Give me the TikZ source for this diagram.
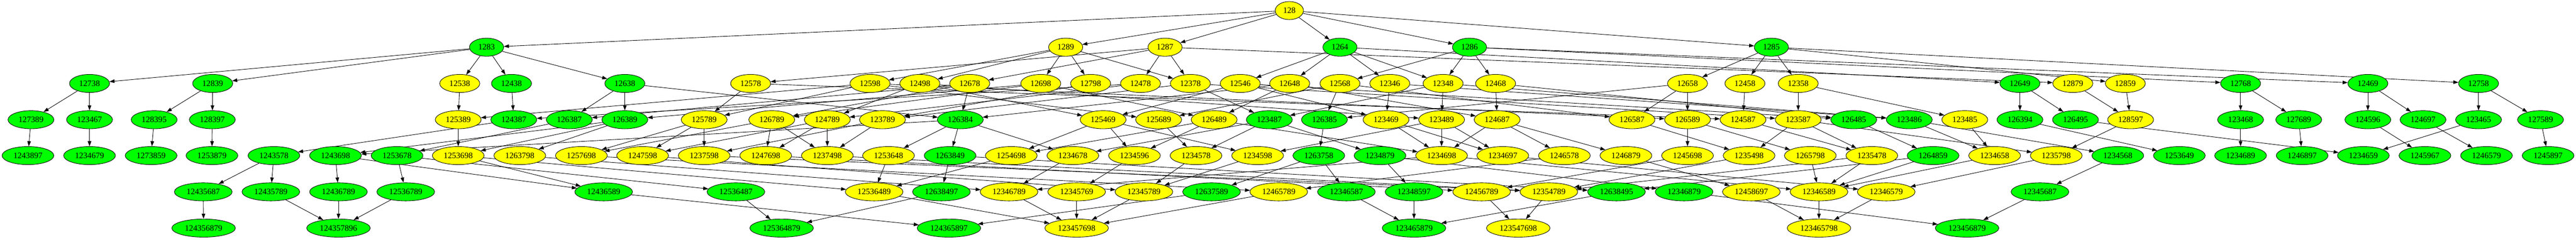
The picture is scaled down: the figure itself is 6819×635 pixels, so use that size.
\documentclass[tikz,border=0pt]{standalone}
\usepackage{fontspec}
\setmainfont{Liberation Serif}
\usetikzlibrary{arrows.meta,backgrounds,shapes.geometric}
\definecolor{gv}{RGB}{0,255,0}
\definecolor{yv}{RGB}{255,255,0}
\tikzset{
  nd/.style={ellipse, draw=black, line width=0.6pt, minimum height=24pt,
    inner xsep=5pt, inner ysep=0pt, font=\fontsize{11pt}{13pt}\selectfont, text=black},
  edge/.style={line width=0.6pt, draw=black, -{Triangle[length=6.7pt,width=4.7pt]}}
}
\begin{document}
\begin{tikzpicture}[x=0.5pt,y=-0.5pt]
\useasboundingbox (0,0) rectangle (6819,635);
% row 0
\node[nd,fill=yv] (n128) at (3413,28) {128};
% row 1
\foreach \l/\x/\c in {1283/1288/gv,1289/2821/yv,1287/3084/yv,1264/3547/gv,1286/3890/gv,1285/4689/gv}
  \node[nd,fill=\c] (n\l) at (\x,125) {\l};
% row 2
\foreach \l/\x/\c in {12738/237/gv,12839/563/gv,12538/1217/yv,12438/1354/gv,12638/1654/gv,12578/1987/yv,
  12598/2303/yv,12498/2435/yv,12678/2567/yv,12698/2755/yv,12798/2887/yv,12478/3019/yv,12378/3151/yv,
  12546/3283/yv,12648/3414/yv,12568/3547/yv,12346/3679/yv,12348/3820/yv,12468/3959/yv,12658/4467/yv,
  12458/4619/yv,12358/4760/yv,12649/5347/gv,12879/5487/yv,12859/5626/yv,12768/5931/gv,12469/6268/gv,12758/6561/gv}
  \node[nd,fill=\c] (n\l) at (\x,221) {\l};
% row 3
\foreach \l/\x/\c in {127389/82/gv,123467/237/gv,128395/408/gv,128397/562/gv,125389/1213/yv,124387/1360/gv,
  126387/1507/gv,126389/1654/gv,125789/1864/yv,126789/2043/yv,124789/2190/yv,123789/2336/yv,126384/2542/gv,
  125469/2920/yv,125689/3067/yv,126489/3214/yv,123487/3360/gv,126385/3506/gv,123469/3669/yv,123489/3816/yv,
  124687/3963/yv,126587/4320/yv,126589/4467/yv,124587/4614/yv,123587/4760/yv,126485/4907/gv,123486/5054/gv,
  123485/5201/yv,126394/5347/gv,126495/5494/gv,128597/5640/yv,123468/5931/gv,127689/6085/gv,124596/6268/gv,
  124697/6414/gv,123465/6561/gv,127589/6725/gv}
  \node[nd,fill=\c] (n\l) at (\x,317) {\l};
% row 4
\foreach \l/\x/\c in {1243897/74/gv,1234679/237/gv,1273859/400/gv,1253879/561/gv,1243578/725/gv,1243698/888/gv,
  1253678/1051/gv,1253698/1213/yv,1263798/1376/yv,1257698/1539/yv,1247598/1701/yv,1237598/1864/yv,1247698/2027/yv,
  1237498/2190/yv,1253648/2352/yv,1263849/2515/gv,1254698/2677/yv,1234678/2840/yv,1234596/3003/yv,1234578/3166/yv,
  1234598/3329/yv,1263758/3491/gv,1234879/3653/gv,1234698/3816/yv,1234697/3978/yv,1246578/4141/yv,1246879/4304/yv,
  1245698/4467/yv,1235498/4630/yv,1265798/4792/yv,1235478/4955/yv,1264859/5117/gv,1234658/5280/yv,1235798/5443/yv,
  1234568/5606/gv,1253649/5769/gv,1234689/5931/gv,1246897/6094/gv,1234659/6256/gv,1245967/6419/gv,1246579/6582/gv,
  1245897/6745/gv}
  \node[nd,fill=\c] (n\l) at (\x,412) {\l};
% row 5
\foreach \l/\x/\c in {12435687/538/gv,12435789/717/gv,12436789/896/gv,12536789/1074/gv,12436589/1598/gv,
  12536487/1948/gv,12536489/2314/yv,12638497/2492/gv,12346789/2671/yv,12345769/2850/yv,12345789/3028/yv,
  12637589/3207/gv,12465789/3385/yv,12346587/3564/gv,12348597/3743/gv,12456789/3922/yv,12354789/4100/yv,
  12638495/4279/gv,12346879/4458/gv,12458697/4636/yv,12346589/4815/yv,12346579/4993/yv,12345687/5400/gv}
  \node[nd,fill=\c] (n\l) at (\x,508) {\l};
% row 6
\foreach \l/\x/\c in {124356879/539/gv,124357896/896/gv,125364879/2069/gv,124365897/2512/gv,123457698/2850/yv,
  123465879/3743/gv,123547698/4019/yv,123465798/4815/yv,123456879/5207/gv}
  \node[nd,fill=\c] (n\l) at (\x,604) {\l};

\begin{pgfonlayer}{background}
\fill[white] (0,0) rectangle (6819,635);
\foreach \a/\b in {
 128/1283,128/1289,128/1287,128/1264,128/1286,128/1285,
 1283/12738,1283/12839,1283/12538,1283/12438,1283/12638,
 1289/12598,1289/12498,1289/12698,1289/12798,1289/12378,
 1287/12578,1287/12678,1287/12478,1287/12378,1287/12879,
 1264/12648,1264/12346,1264/12348,1264/12546,1264/12649,
 1286/12568,1286/12348,1286/12468,1286/12768,1286/12469,
 1285/12658,1285/12458,1285/12358,1285/12758,1285/12859,
 12738/127389,12738/123467,12839/128395,12839/128397,
 12538/125389,12598/125389,12438/124387,12478/124387,
 12638/126387,12678/126387,12638/126389,12698/126389,
 12578/125789,12598/125789,12678/126789,12698/126789,
 12478/124789,12498/124789,12378/123789,12798/123789,
 12638/126384,12678/126384,12648/126384,
 12546/125469,12498/125469,12568/125689,12598/125689,
 12648/126489,12698/126489,12378/123487,12348/123487,
 12568/126385,12658/126385,12346/123469,12546/123469,
 12348/123489,12498/123489,12468/124687,12648/124687,
 12658/126587,12568/126587,12658/126589,12598/126589,
 12458/124587,12578/124587,12358/123587,12378/123587,
 12468/126485,12546/126485,12348/123486,12346/123486,
 12358/123485,12649/126394,12649/126495,
 12879/128597,12859/128597,12768/123468,12768/127689,
 12469/124596,12469/124697,12758/123465,12758/127589,
 127389/1243897,123467/1234679,128395/1273859,128397/1253879,
 124387/1243578,126389/1243698,126384/1243698,126387/1253678,
 125389/1253698,126389/1253698,126389/1263798,
 125789/1257698,126789/1257698,125789/1247598,124789/1247598,
 125789/1237598,123789/1237598,126789/1247698,124789/1247698,
 126789/1237498,124789/1237498,123789/1237498,
 126384/1253648,126384/1263849,125469/1254698,126489/1254698,
 126384/1234678,123487/1234678,125469/1234596,126489/1234596,
 125689/1234578,123487/1234578,125469/1234598,123489/1234598,
 126385/1263758,123487/1234879,
 123469/1234698,123489/1234698,124687/1234698,126489/1234698,
 123469/1234697,123489/1234697,124687/1246578,124687/1246879,
 126589/1245698,126587/1235498,123587/1235498,126589/1265798,
 124587/1235478,123587/1235478,126485/1264859,
 123485/1234658,123486/1234658,128597/1235798,123587/1235798,
 123486/1234568,126394/1253649,123468/1234689,127689/1246897,
 126495/1234659,123465/1234659,124596/1245967,124697/1246579,127589/1245897,
 1243578/12435687,1243578/12435789,1243698/12436789,1253678/12536789,
 1243698/12436589,1253698/12436589,1253678/12536487,
 1253648/12536489,1254698/12536489,1253698/12536489,1263849/12638497,
 1234678/12346789,1263798/12346789,1234698/12346789,1234596/12345769,
 1234578/12345789,1234598/12345789,1247598/12345789,1263758/12637589,
 1257698/12465789,1246578/12465789,1263758/12346587,1234879/12348597,
 1247698/12456789,1245698/12456789,
 1237598/12354789,1237498/12354789,1235478/12354789,1235498/12354789,
 1263849/12638495,1264859/12638495,1234879/12346879,1246879/12458697,
 1265798/12346589,1235478/12346589,1264859/12346589,1234698/12346589,1234658/12346589,
 1234697/12346579,1235798/12346579,1234568/12345687,
 12435687/124356879,12435789/124357896,12436789/124357896,12536789/124357896,
 12536487/125364879,12638497/125364879,12436589/124365897,12637589/124365897,
 12346789/123457698,12345769/123457698,12345789/123457698,12465789/123457698,12536489/123457698,
 12346587/123465879,12348597/123465879,12638495/123465879,
 12354789/123547698,12456789/123547698,
 12458697/123465798,12346589/123465798,12346579/123465798,
 12346879/123456879,12345687/123456879}
  \draw[edge] (n\a) -- (n\b);
\end{pgfonlayer}
\end{tikzpicture}
\end{document}
